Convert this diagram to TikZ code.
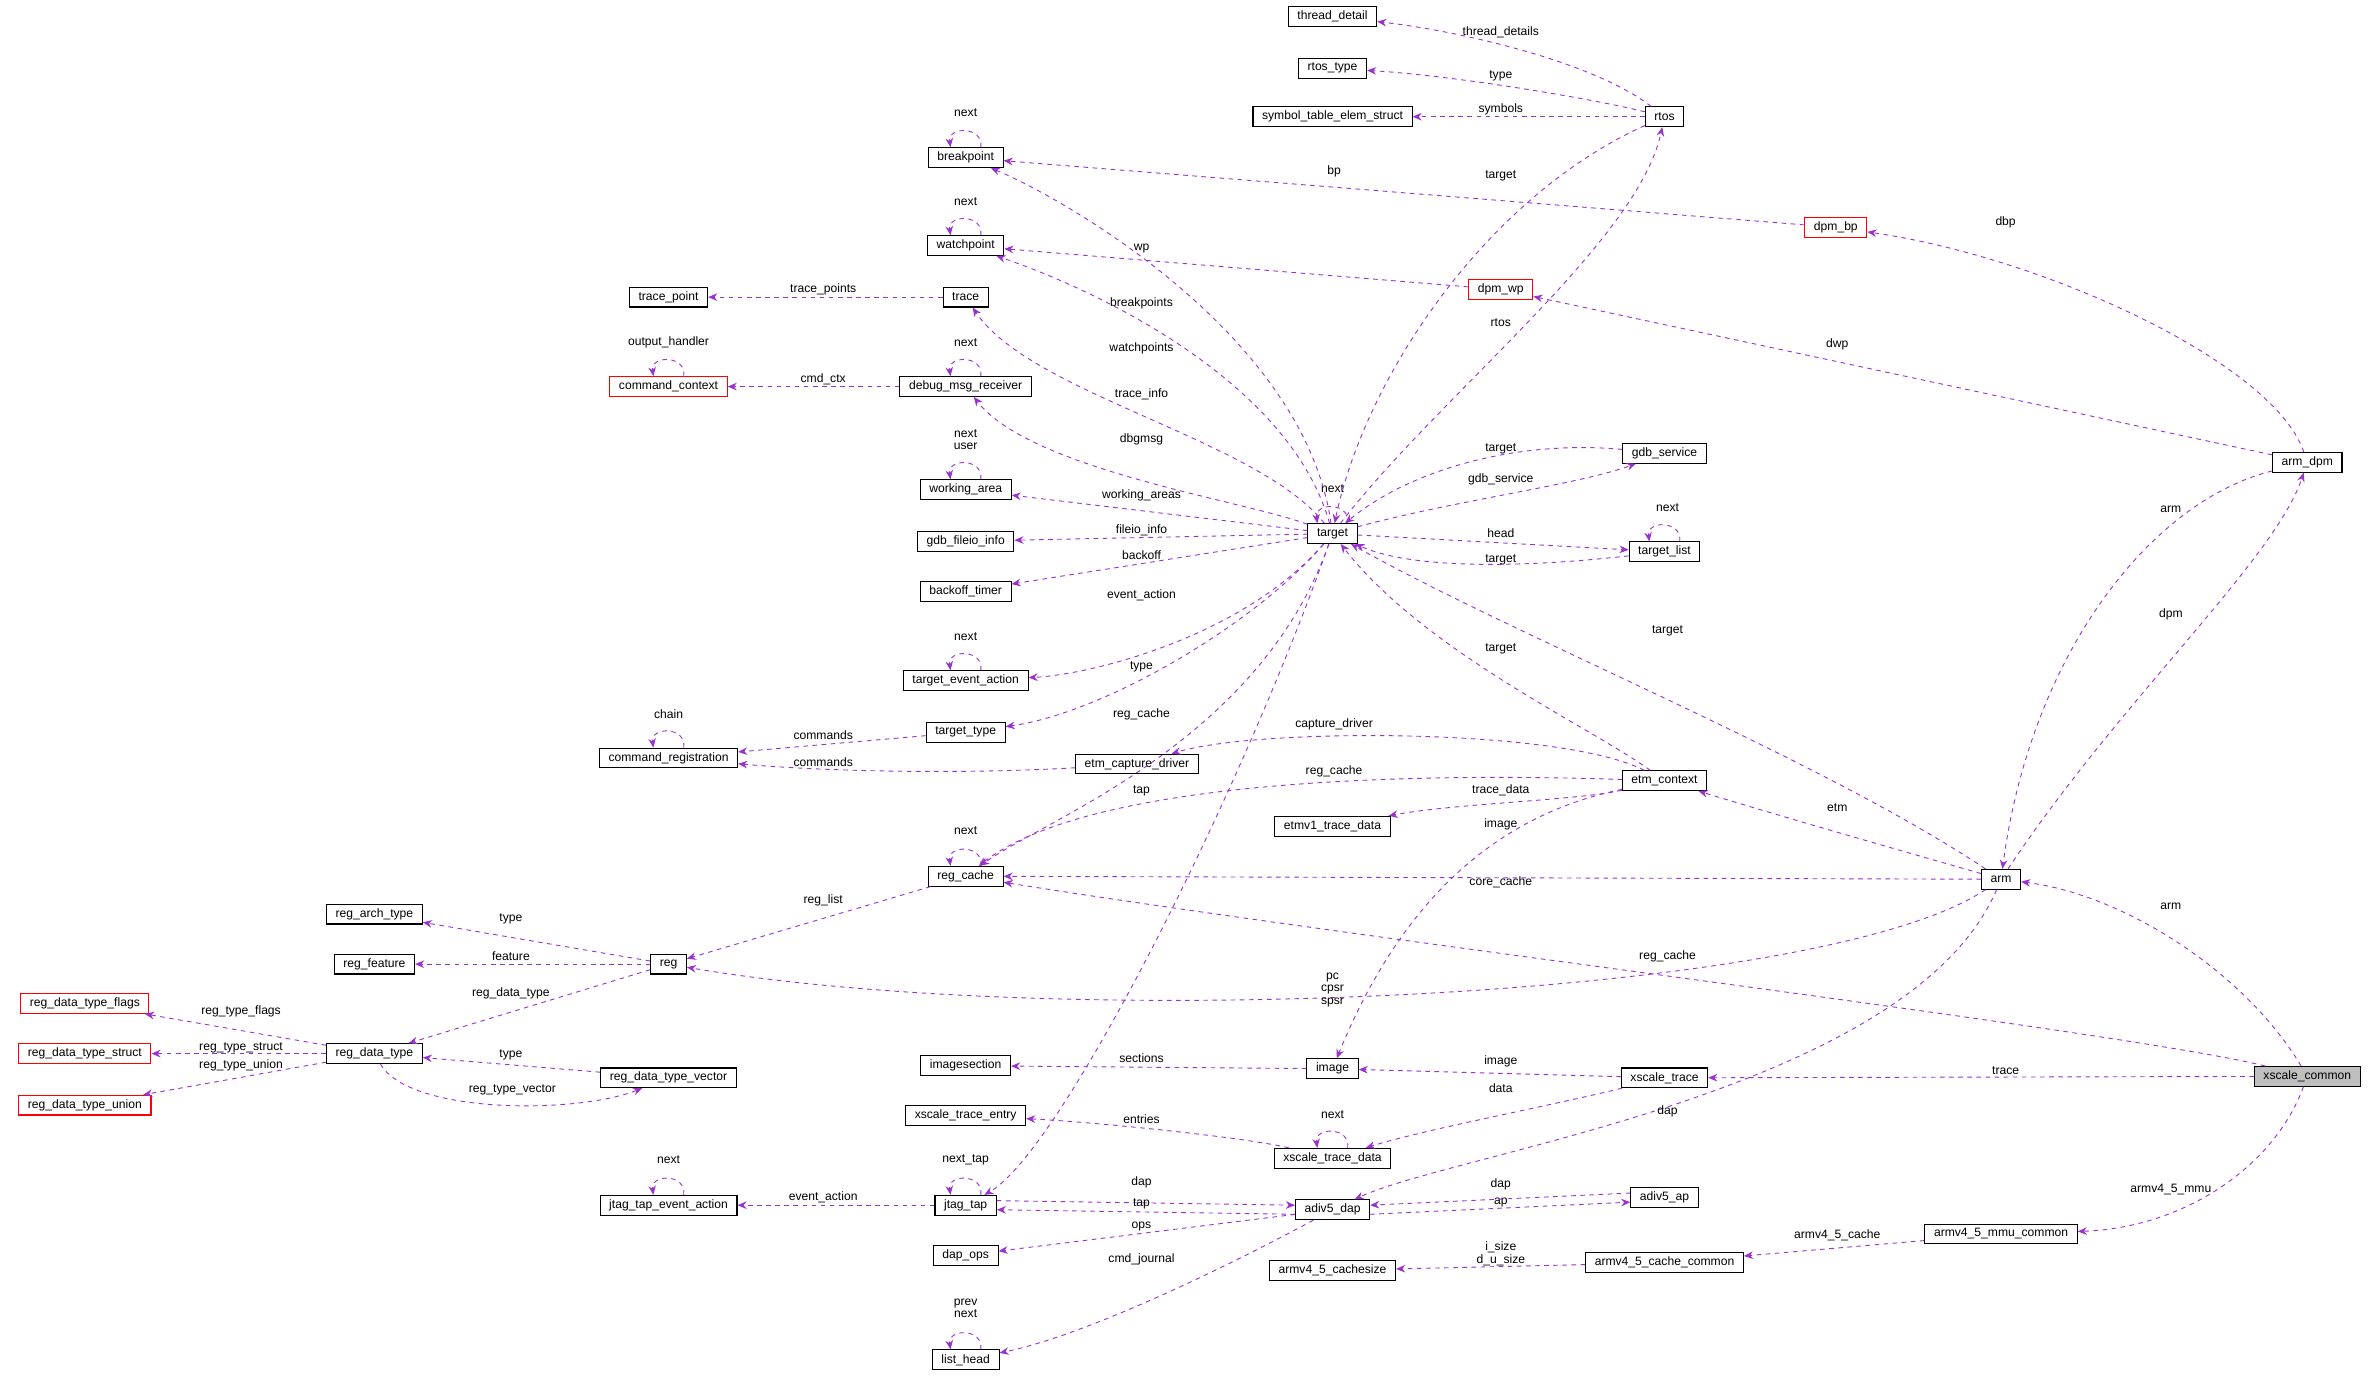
\documentclass[tikz,border=0pt]{standalone}
\usepackage{fontspec}
\setmainfont{Liberation Sans}
\usetikzlibrary{arrows.meta}
\definecolor{ec}{RGB}{154,50,205}
\tikzset{
 box/.style={draw=black,line width=0.7pt,rectangle,minimum height=13pt,inner xsep=6pt,inner ysep=1.5pt,font=\fontsize{8}{9}\selectfont,fill=white},
 rbox/.style={box,draw=red},
 lab/.style={font=\fontsize{8}{8.5}\selectfont,inner sep=0.5pt,align=center},
 e/.style={draw=ec,dashed,line width=0.6pt,-{Stealth[length=6pt,width=5pt]}},
}
\newcommand{\selfloop}[1]{\draw[e] ([xshift=10pt]#1.north) .. controls +(2,-14) and +(-2,-14) .. ([xshift=-10pt]#1.north);}
\begin{document}
\begin{tikzpicture}[x=1pt,y=-1pt]
\useasboundingbox (0,0) rectangle (1568,910);
% nodes
\node[box] (thread) at (879,11) {thread\_detail};
\node[box] (rtostype) at (879,45) {rtos\_type};
\node[box] (symt) at (879,77) {symbol\_table\_elem\_struct};
\node[box] (rtos) at (1098,77) {rtos};
\node[box] (bp) at (637,104) {breakpoint};
\node[rbox] (dpmbp) at (1211,150) {dpm\_bp};
\node[box] (wp) at (637,162) {watchpoint};
\node[rbox] (dpmwp) at (990,191) {dpm\_wp};
\node[box] (tpoint) at (441,196) {trace\_point};
\node[box] (trace) at (637,196) {trace};
\node[rbox] (cmdctx) at (441,255) {command\_context};
\node[box] (dmr) at (637,255) {debug\_msg\_receiver};
\node[box] (gdbs) at (1098,299) {gdb\_service};
\node[box] (armdpm) at (1522,305) {arm\_dpm};
\node[box] (warea) at (637,323) {working\_area};
\node[box] (target) at (879,352) {target};
\node[box] (fileio) at (637,357) {gdb\_fileio\_info};
\node[box] (tlist) at (1098,364) {target\_list};
\node[box] (backoff) at (637,390) {backoff\_timer};
\node[box] (tea) at (637,449) {target\_event\_action};
\node[box] (ttype) at (637,483) {target\_type};
\node[box] (creg) at (441,500) {command\_registration};
\node[box] (ecd) at (750,504) {etm\_capture\_driver};
\node[box] (etm) at (1098,515) {etm\_context};
\node[box] (etmv1) at (879,545) {etmv1\_trace\_data};
\node[box] (rcache) at (637,578) {reg\_cache};
\node[box] (arm) at (1320,580) {arm};
\node[box] (rarch) at (247,603) {reg\_arch\_type};
\node[box] (rfeat) at (247,636) {reg\_feature};
\node[box] (reg) at (441,636) {reg};
\node[rbox] (rflags) at (56,662) {reg\_data\_type\_flags};
\node[rbox] (rstruct) at (56,695) {reg\_data\_type\_struct};
\node[box] (rdt) at (247,695) {reg\_data\_type};
\node[rbox] (runion) at (56,729) {reg\_data\_type\_union};
\node[box] (isec) at (637,703) {imagesection};
\node[box] (image) at (879,705) {image};
\node[box] (rvec) at (441,711) {reg\_data\_type\_vector};
\node[box] (xtrace) at (1098,711) {xscale\_trace};
\node[box,fill={rgb,255:red,191;green,191;blue,191}] (xc) at (1522,710) {xscale\_common};
\node[box] (xte) at (637,736) {xscale\_trace\_entry};
\node[box] (xtd) at (879,764) {xscale\_trace\_data};
\node[box] (jtea) at (441,795) {jtag\_tap\_event\_action};
\node[box] (jtag) at (637,795) {jtag\_tap};
\node[box] (dap) at (879,798) {adiv5\_dap};
\node[box] (ap) at (1098,790) {adiv5\_ap};
\node[box] (mmu) at (1320,814) {armv4\_5\_mmu\_common};
\node[box] (cache) at (1098,833) {armv4\_5\_cache\_common};
\node[box] (csize) at (879,838) {armv4\_5\_cachesize};
\node[box] (dapops) at (637,828) {dap\_ops};
\node[box] (lhead) at (637,897) {list\_head};
% self loops
\foreach \n in {bp,wp,cmdctx,dmr,warea,target,tlist,tea,creg,rcache,xtd,jtag,jtea,lhead} {\selfloop{\n}}
\node[lab] (l1) at (637,74) {next};
\node[lab] (l2) at (637,133) {next};
\node[lab] (l3) at (441,226) {output\_handler};
\node[lab] (l4) at (637,226) {next};
\node[lab] (l5) at (637,290) {next\\user};
\node[lab] (l6) at (879,322) {next};
\node[lab] (l7) at (1100,335) {next};
\node[lab] (l8) at (637,420) {next};
\node[lab] (l9) at (441,471) {chain};
\node[lab] (l10) at (637,548) {next};
\node[lab] (l11) at (879,735) {next};
\node[lab] (l12) at (637,765) {next\_tap};
\node[lab] (l13) at (441,765) {next};
\node[lab] (l14) at (637,863) {prev\\next};
% edges
\draw[e] (rtos) .. controls (1050,40) and (960,20) .. (thread); \node[lab] (a1) at (990,21) {thread\_details};
\draw[e] (rtos) .. controls (1050,65) and (960,50) .. (rtostype); \node[lab] (a2) at (990,50) {type};
\draw[e] (rtos) -- (symt); \node[lab] (a3) at (990,72) {symbols};
\draw[e] (rtos) .. controls (980,130) and (900,250) .. (target); \node[lab] (a4) at (990,116) {target};
\draw[e] (target) .. controls (950,260) and (1080,160) .. (rtos); \node[lab] (a5) at (990,213) {rtos};
\draw[e] (dpmbp) -- (bp); \node[lab] (a6) at (880,113) {bp};
\draw[e] (target) .. controls (860,220) and (700,130) .. (bp); \node[lab] (a7) at (753,200) {breakpoints};
\draw[e] (armdpm) .. controls (1500,240) and (1350,170) .. (dpmbp); \node[lab] (a8) at (1323,147) {dbp};
\draw[e] (dpmwp) -- (wp); \node[lab] (a9) at (753,164) {wp};
\draw[e] (target) .. controls (850,250) and (720,190) .. (wp); \node[lab] (a10) at (753,230) {watchpoints};
\draw[e] (armdpm) -- (dpmwp); \node[lab] (a11) at (1212,227) {dwp};
\draw[e] (trace) -- (tpoint); \node[lab] (a12) at (543,191) {trace\_points};
\draw[e] (target) .. controls (830,290) and (680,260) .. (trace); \node[lab] (a13) at (753,260) {trace\_info};
\draw[e] (dmr) -- (cmdctx); \node[lab] (a14) at (543,250) {cmd\_ctx};
\draw[e] (target) .. controls (820,330) and (680,310) .. (dmr); \node[lab] (a15) at (753,290) {dbgmsg};
\draw[e] (gdbs) .. controls (1000,290) and (930,310) .. (target); \node[lab] (a16) at (990,296) {target};
\draw[e] (target) .. controls (960,330) and (1040,320) .. (gdbs); \node[lab] (a17) at (990,316) {gdb\_service};
\draw[e] (target) -- (warea); \node[lab] (a18) at (753,327) {working\_areas};
\draw[e] (target) -- (fileio); \node[lab] (a19) at (753,350) {fileio\_info};
\draw[e] (target) -- (tlist); \node[lab] (a20) at (990,352) {head};
\draw[e] (tlist) .. controls (1000,375) and (930,375) .. (target); \node[lab] (a21) at (990,369) {target};
\draw[e] (target) -- (backoff); \node[lab] (a22) at (753,366) {backoff};
\draw[e] (target) .. controls (820,420) and (720,445) .. (tea); \node[lab] (a23) at (753,393) {event\_action};
\draw[e] (target) .. controls (830,410) and (730,470) .. (ttype); \node[lab] (a24) at (753,440) {type};
\draw[e] (ttype) -- (creg); \node[lab] (a25) at (543,485) {commands};
\draw[e] (ecd) .. controls (650,510) and (560,510) .. (creg); \node[lab] (a26) at (543,503) {commands};
\draw[e] (target) .. controls (830,490) and (690,540) .. (rcache); \node[lab] (a27) at (753,471) {reg\_cache};
\draw[e] (target) .. controls (820,520) and (700,760) .. (jtag); \node[lab] (a28) at (753,522) {tap};
\draw[e] (armdpm) .. controls (1420,330) and (1340,430) .. (arm); \node[lab] (a29) at (1432,336) {arm};
\draw[e] (arm) .. controls (1400,460) and (1500,370) .. (armdpm); \node[lab] (a30) at (1432,405) {dpm};
\draw[e] (arm) .. controls (1200,500) and (1000,420) .. (target); \node[lab] (a31) at (1100,416) {target};
\draw[e] (etm) .. controls (1050,480) and (940,430) .. (target); \node[lab] (a32) at (990,428) {target};
\draw[e] (etm) .. controls (1030,480) and (830,480) .. (ecd); \node[lab] (a33) at (880,478) {capture\_driver};
\draw[e] (etm) .. controls (1000,512) and (730,505) .. (rcache); \node[lab] (a34) at (880,509) {reg\_cache};
\draw[e] (etm) .. controls (1040,528) and (960,530) .. (etmv1); \node[lab] (a35) at (990,521) {trace\_data};
\draw[e] (etm) .. controls (1000,535) and (930,580) .. (image); \node[lab] (a36) at (990,544) {image};
\draw[e] (arm) .. controls (1250,560) and (1180,540) .. (etm); \node[lab] (a37) at (1212,533) {etm};
\draw[e] (arm) -- (rcache); \node[lab] (a38) at (990,582) {core\_cache};
\draw[e] (xc) .. controls (1400,680) and (900,620) .. (rcache); \node[lab] (a39) at (1100,631) {reg\_cache};
\draw[e] (rcache) -- (reg); \node[lab] (a40) at (543,594) {reg\_list};
\draw[e] (reg) -- (rarch); \node[lab] (a41) at (337,606) {type};
\draw[e] (reg) -- (rfeat); \node[lab] (a42) at (337,631) {feature};
\draw[e] (reg) -- (rdt); \node[lab] (a43) at (337,655) {reg\_data\_type};
\draw[e] (arm) .. controls (1200,660) and (700,680) .. (reg); \node[lab] (a44) at (879,653) {pc\\cpsr\\spsr};
\draw[e] (xc) .. controls (1480,640) and (1400,590) .. (arm); \node[lab] (a45) at (1432,598) {arm};
\draw[e] (rdt) -- (rflags); \node[lab] (a46) at (159,667) {reg\_type\_flags};
\draw[e] (rdt) -- (rstruct); \node[lab] (a47) at (159,691) {reg\_type\_struct};
\draw[e] (rdt) -- (runion); \node[lab] (a48) at (159,703) {reg\_type\_union};
\draw[e] (rdt) .. controls (270,735) and (380,735) .. (rvec); \node[lab] (a49) at (338,719) {reg\_type\_vector};
\draw[e] (rvec) -- (rdt); \node[lab] (a50) at (337,696) {type};
\draw[e] (image) -- (isec); \node[lab] (a51) at (753,698) {sections};
\draw[e] (xtrace) -- (image); \node[lab] (a52) at (990,700) {image};
\draw[e] (xc) -- (xtrace); \node[lab] (a53) at (1323,706) {trace};
\draw[e] (arm) .. controls (1260,720) and (960,760) .. (dap); \node[lab] (a54) at (1100,733) {dap};
\draw[e] (xtrace) .. controls (1020,730) and (940,745) .. (xtd); \node[lab] (a55) at (990,718) {data};
\draw[e] (xtd) .. controls (820,750) and (720,740) .. (xte); \node[lab] (a56) at (753,738) {entries};
\draw[e] (jtag) -- (jtea); \node[lab] (a57) at (543,790) {event\_action};
\draw[e] ([yshift=3pt]jtag.east) -- ([yshift=3pt]dap.west); \node[lab] (a58) at (753,780) {dap};
\draw[e] ([yshift=-3pt]dap.west) -- ([yshift=-3pt]jtag.east); \node[lab] (a59) at (753,794) {tap};
\draw[e] ([yshift=-3pt]dap.east) -- ([yshift=-3pt]ap.west); \node[lab] (a60) at (990,793) {ap};
\draw[e] ([yshift=3pt]ap.west) -- ([yshift=3pt]dap.east); \node[lab] (a61) at (990,781) {dap};
\draw[e] (dap) -- (dapops); \node[lab] (a62) at (753,809) {ops};
\draw[e] (dap) .. controls (820,830) and (720,880) .. (lhead); \node[lab] (a63) at (753,831) {cmd\_journal};
\draw[e] (xc) .. controls (1500,770) and (1440,810) .. (mmu); \node[lab] (a64) at (1432,785) {armv4\_5\_mmu};
\draw[e] (mmu) -- (cache); \node[lab] (a65) at (1212,815) {armv4\_5\_cache};
\draw[e] (cache) -- (csize); \node[lab] (a66) at (990,827) {i\_size\\d\_u\_size};
\end{tikzpicture}
\end{document}
